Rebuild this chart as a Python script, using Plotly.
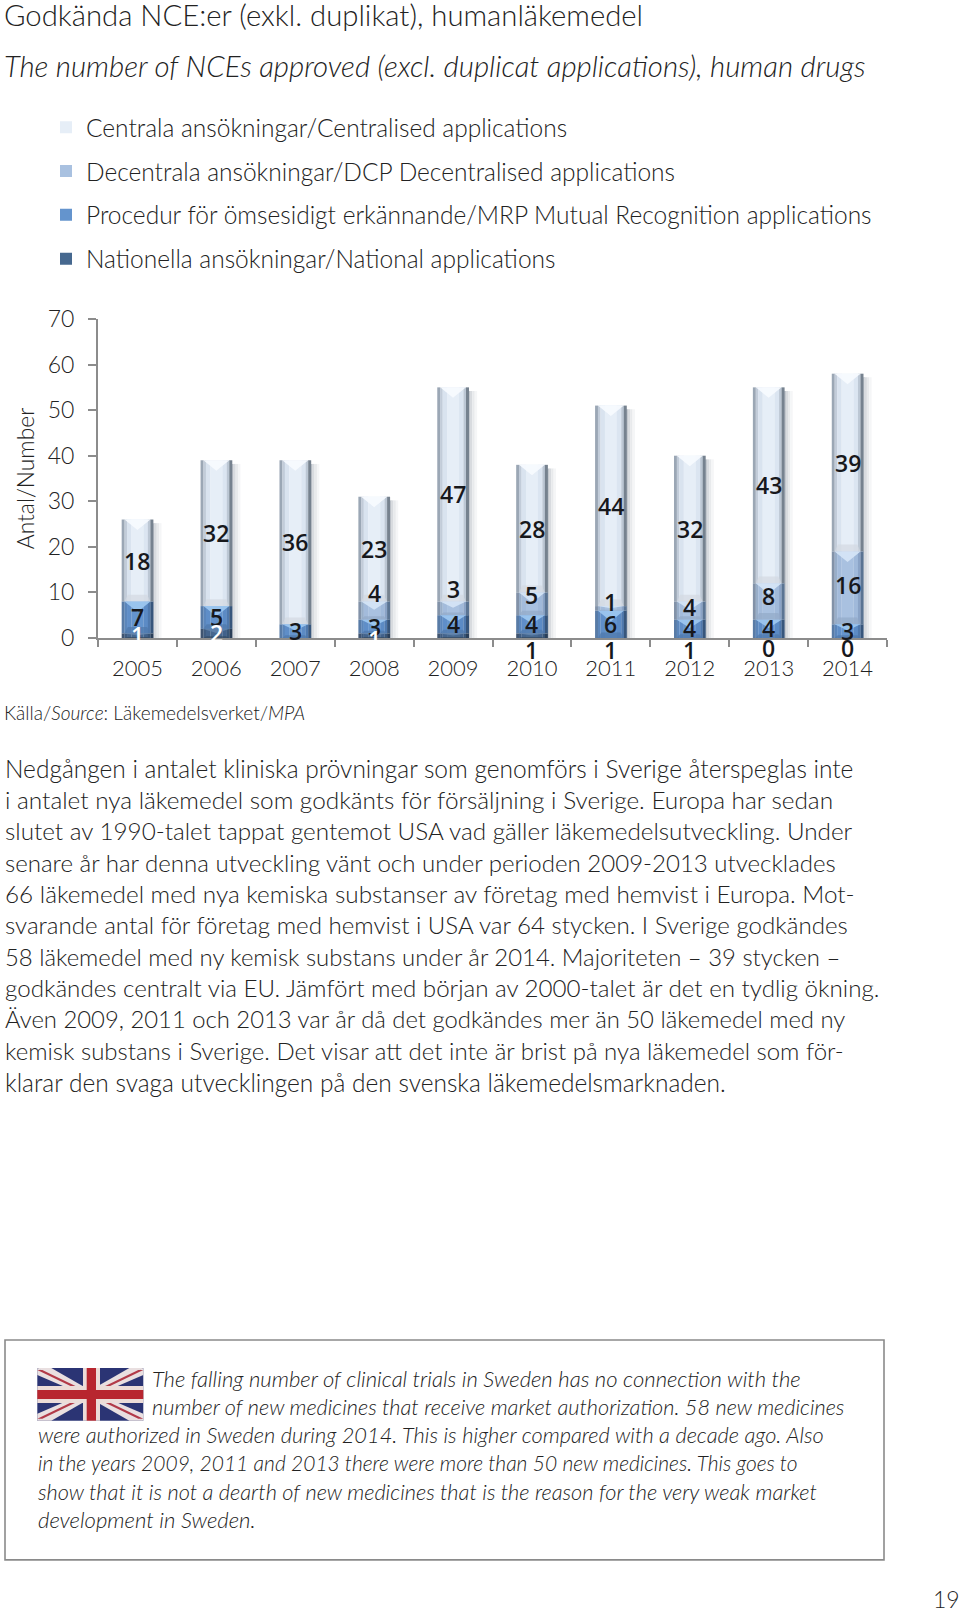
import plotly.graph_objects as go

years = ["2005","2006","2007","2008","2009","2010","2011","2012","2013","2014"]
national = [1,2,0,1,1,1,0,0,0,0]
mrp = [7,5,3,3,4,4,6,4,4,3]
dcp = [0,0,0,4,3,5,1,4,8,16]
central = [18,32,36,23,47,28,44,32,43,39]
national_labels = ["1","2","","1","","1","1","1","0","0"]
yticks = [0,10,20,30,40,50,60,70]

names = ["Centrala ansökningar/Centralised applications",
         "Decentrala ansökningar/DCP Decentralised applications",
         "Procedur för ömsesidigt erkännande/MRP Mutual Recognition applications",
         "Nationella ansökningar/National applications"]
title_sv = "Godkända NCE:er (exkl. duplikat), humanläkemedel"
title_en = "The number of NCEs approved (excl. duplicat applications), human drugs"
source = "Källa/<i>Source</i>: Läkemedelsverket/<i>MPA</i>"
body = ["Nedgången i antalet kliniska prövningar som genomförs i Sverige återspeglas inte",
"i antalet nya läkemedel som godkänts för försäljning i Sverige. Europa har sedan",
"slutet av 1990-talet tappat gentemot USA vad gäller läkemedelsutveckling. Under",
"senare år har denna utveckling vänt och under perioden 2009-2013 utvecklades",
"66 läkemedel med nya kemiska substanser av företag med hemvist i Europa. Mot-",
"svarande antal för företag med hemvist i USA var 64 stycken. I Sverige godkändes",
"58 läkemedel med ny kemisk substans under år 2014. Majoriteten – 39 stycken –",
"godkändes centralt via EU. Jämfört med början av 2000-talet är det en tydlig ökning.",
"Även 2009, 2011 och 2013 var år då det godkändes mer än 50 läkemedel med ny",
"kemisk substans i Sverige. Det visar att det inte är brist på nya läkemedel som för-",
"klarar den svaga utvecklingen på den svenska läkemedelsmarknaden."]
box_text = ["The falling number of clinical trials in Sweden has no connection with the",
"number of new medicines that receive market authorization. 58 new medicines",
"were authorized in Sweden during 2014. This is higher compared with a decade ago. Also",
"in the years 2009, 2011 and 2013 there were more than 50 new medicines. This goes to",
"show that it is not a dearth of new medicines that is the reason for the very weak market",
"development in Sweden."]
page_no = "19"

# ---- style / layout constants ----
W, H = 960, 1613
L, R, T, B = 98, 887, 319, 638.3
FONT = "Lato"
WEIGHT = 300
TEXT = "#222222"
body_sizes = [24.5,24.35,24.25,24.05,24.3,24.1,23.9,24.15,23.85,24.0,24.5]
box_sizes = [22.05,21.7,21.8,21.0,21.75,22.1]
def px(x): return (x - L) / (R - L)
def py(y): return (B - y) / (B - T)

BAR_W = 0.40
edges = [0, .09, .17, .31, .69, .83, .91, 1]
palettes = {
 "central": ["#9ba7b5","#c2ccd9","#d9e3ef","#e6eef7","#dbe5f1","#bcc7d4","#76828f"],
 "dcp":     ["#8292a8","#98aec9","#a3bbdb","#a9c1e0","#a0b9da","#8aa3c6","#5a7493"],
 "mrp":     ["#587ba6","#5b86bb","#5f8ec8","#6494cd","#5c8bc5","#4f79ae","#37567c"],
 "nat":     ["#3f5470","#3f5c80","#44648c","#46688f","#41618a","#395678","#2a3f59"],
}
chevron = {"central":"#f7fafe","dcp":"#d4e4f5","mrp":"#9cc6ef","nat":"#5f82ab"}
bevel = {"central":"#d3d9e1","dcp":"#93a9c8","mrp":"#4f78aa","nat":"#33495f"}

n = len(years)
lo_nat = [0]*n
lo_mrp = [a for a in national]
lo_dcp = [a+b for a,b in zip(national,mrp)]
lo_cen = [a+b+c for a,b,c in zip(national,mrp,dcp)]
totals = [a+b for a,b in zip(lo_cen,central)]
series = [("central",central,lo_cen,names[0]),("dcp",dcp,lo_dcp,names[1]),
          ("mrp",mrp,lo_mrp,names[2]),("nat",national,lo_nat,names[3])]
xs = list(range(n))

fig = go.Figure()
# drop shadow to the right of every column
for off, w, col in [(0.0,0.02,"#c3c8ce"),(0.02,0.025,"#d8dbdf"),(0.045,0.03,"#e8eaec"),(0.075,0.03,"#f5f6f7")]:
    fig.add_trace(go.Bar(x=xs,y=[t-0.8 for t in totals],base=0,offset=BAR_W/2+off,width=w,
                         marker=dict(color=col,line_width=0),showlegend=False,hoverinfo="skip"))
for key,vals,lows,name in series:
    pal = palettes[key]
    for j in range(7):
        fig.add_trace(go.Bar(x=xs,y=vals,base=lows,offset=-BAR_W/2+edges[j]*BAR_W,
                             width=(edges[j+1]-edges[j])*BAR_W+0.002,
                             marker=dict(color=pal[j],line_width=0),
                             name=name if j==3 else None,showlegend=(j==3),
                             legendgroup=key,hoverinfo="skip" if j!=3 else None))
    # bevels: chevron at the top, trapezoid at the bottom of each segment
    cx,cy,bx,by=[],[],[],[]
    for i,(v,lo) in enumerate(zip(vals,lows)):
        if v<=0: continue
        hi=lo+v; h=min(2.3,v*0.45); hw=BAR_W/2*0.82
        cx+=[i-hw,i+hw,i,i-hw,None]; cy+=[hi,hi,hi-h,hi,None]
        b=min(1.5,v*0.2)
        bx+=[i-hw,i+hw,i+hw*0.75,i-hw*0.75,i-hw,None]; by+=[lo,lo,lo+b,lo+b,lo,None]
    fig.add_trace(go.Scatter(x=bx,y=by,mode="lines",fill="toself",fillcolor=bevel[key],line_width=0,
                             showlegend=False,hoverinfo="skip",opacity=0.7))
    fig.add_trace(go.Scatter(x=cx,y=cy,mode="lines",fill="toself",fillcolor=chevron[key],line_width=0,
                             showlegend=False,hoverinfo="skip",opacity=0.95))

ann=[]
def T_(x,y,text,size=23,color=TEXT,anchor="left"):
    ann.append(dict(xref="paper",yref="paper",x=px(x),y=py(y),text=text,showarrow=False,
                    xanchor=anchor,yanchor="middle",align="left",
                    font=dict(family=FONT,size=size,color=color,weight=WEIGHT)))

# value labels
LBL=dict(family="Open Sans",size=23,color="#17181c",weight=600)
shift_cen=[0]*10
shift_dcp=[0,0,0,17.5,19.5,8.5,6,3.5,5.5,2.5]
shift_mrp=[0,.5,0,0,0,0,.5,.5,.5,0]
shift_nat=[.5,0,0,-3.5,0,-14.5,-12,-12,-9.5,-9.5]
for i in range(n):
    ann.append(dict(x=i,y=lo_cen[i]+central[i]/2,text=str(central[i]),showarrow=False,yshift=shift_cen[i],font=LBL))
    if dcp[i]>0:
        ann.append(dict(x=i,y=lo_dcp[i]+dcp[i]/2,text=str(dcp[i]),showarrow=False,yshift=shift_dcp[i],font=LBL))
    ann.append(dict(x=i,y=lo_mrp[i]+mrp[i]/2,text=str(mrp[i]),showarrow=False,yshift=shift_mrp[i],font=LBL))
    if national_labels[i]:
        col="#ffffff" if i in (0,1,3) else "#17181c"
        ann.append(dict(x=i,y=national[i]/2,text=national_labels[i],showarrow=False,yshift=shift_nat[i],
                        font=dict(LBL,color=col)))

T_(2,14.5,title_sv,size=29.3)
T_(2,65,f"<i>{title_en}</i>",size=29.4)
T_(2,713,source,size=19.1)
for y,line,s in zip([769,800.2,831.3,862.6,893.8,925.5,956.6,988.5,1019.6,1050.7,1082.8],body,body_sizes):
    T_(3,y,line,size=s)
for (x,y),line,s in zip([(150,1379),(150,1408),(36,1436),(36,1464),(36,1493),(36,1521)],box_text,box_sizes):
    T_(x,y,f"<i>{line}</i>",size=s)
T_(962,1600,page_no,size=23,anchor="right")

def rect(x0,y0,x1,y1,fill,line=None,lw=0,layer="above"):
    return dict(type="rect",xref="paper",yref="paper",x0=px(x0),x1=px(x1),y0=py(y0),y1=py(y1),
                fillcolor=fill,line=dict(color=line or fill,width=lw),layer=layer)
def poly(pts,fill):
    d="M"+" L".join(f"{px(a):.5f},{py(b):.5f}" for a,b in pts)+" Z"
    return dict(type="path",xref="paper",yref="paper",path=d,fillcolor=fill,line_width=0,layer="above")

fx0,fy0,fx1,fy1=37.3,1369,143.3,1421.7
shapes=[rect(5,1341,884,1561,"rgba(0,0,0,0)","#8a8a8a",1.6,"below"),
        rect(fx0,fy0,fx1,fy1,"#2b3474")]
for a,b,c,e in [(fx0,fy0,fx1,fy1),(fx0,fy1,fx1,fy0)]:
    s=1 if e>b else -1
    shapes.append(poly([(a,b),(a+14,b),(c,e),(c-14,e)],"#e9dfe0"))
    shapes.append(poly([(a,b),(a,b+s*7),(c,e),(c,e-s*7)],"#e9dfe0"))
    shapes.append(poly([(a,b+s*2),(a+5,b+s*2),(c,e-s*2),(c-5,e-s*2)],"#b23a48"))
shapes+=[rect(fx0,1387,fx1,1404,"#ecdcd8"),rect(83,fy0,100,fy1,"#ecdcd8"),
         rect(fx0,1391,fx1,1400,"#b8262f"),rect(86.7,fy0,96,fy1,"#b8262f")]

AXF=dict(family=FONT,size=22,color=TEXT,weight=WEIGHT)
fig.update_layout(
    width=W,height=H,autosize=False,barmode="overlay",plot_bgcolor="white",paper_bgcolor="white",
    margin=dict(l=L,r=W-R,t=T,b=H-B,autoexpand=False),
    font=dict(family=FONT,color=TEXT),
    annotations=ann,shapes=shapes,
    legend=dict(x=px(46),y=py(104.5),xanchor="left",yanchor="top",font=dict(family=FONT,size=24.5,color=TEXT,weight=WEIGHT),
                bgcolor="rgba(0,0,0,0)",tracegroupgap=9,itemclick=False,itemdoubleclick=False,itemwidth=30),
    xaxis=dict(range=[-0.5,n-0.5],tickmode="array",tickvals=xs,ticktext=years,ticks="outside",ticklen=10,
               tickcolor="rgba(0,0,0,0)",tickfont=AXF,showgrid=False,zeroline=False,
               showline=True,linecolor="#8c8c8c",linewidth=2,
               minor=dict(tickmode="array",tickvals=[k-0.5 for k in range(n+1)],ticks="outside",ticklen=7,
                          tickcolor="#8c8c8c",tickwidth=2,showgrid=False)),
    yaxis=dict(range=[0,70],tickmode="array",tickvals=yticks,ticks="outside",ticklen=8,tickcolor="#8c8c8c",tickwidth=2,
               showgrid=False,zeroline=False,showline=True,linecolor="#8c8c8c",linewidth=2,
               tickfont=dict(AXF,size=23),ticklabelstandoff=9,
               title=dict(text="Antal/Number",font=dict(AXF,size=22.8),standoff=7)),
)
fig.write_html("out.html",post_script="document.body.style.margin='0';",config={"displayModeBar":False})
